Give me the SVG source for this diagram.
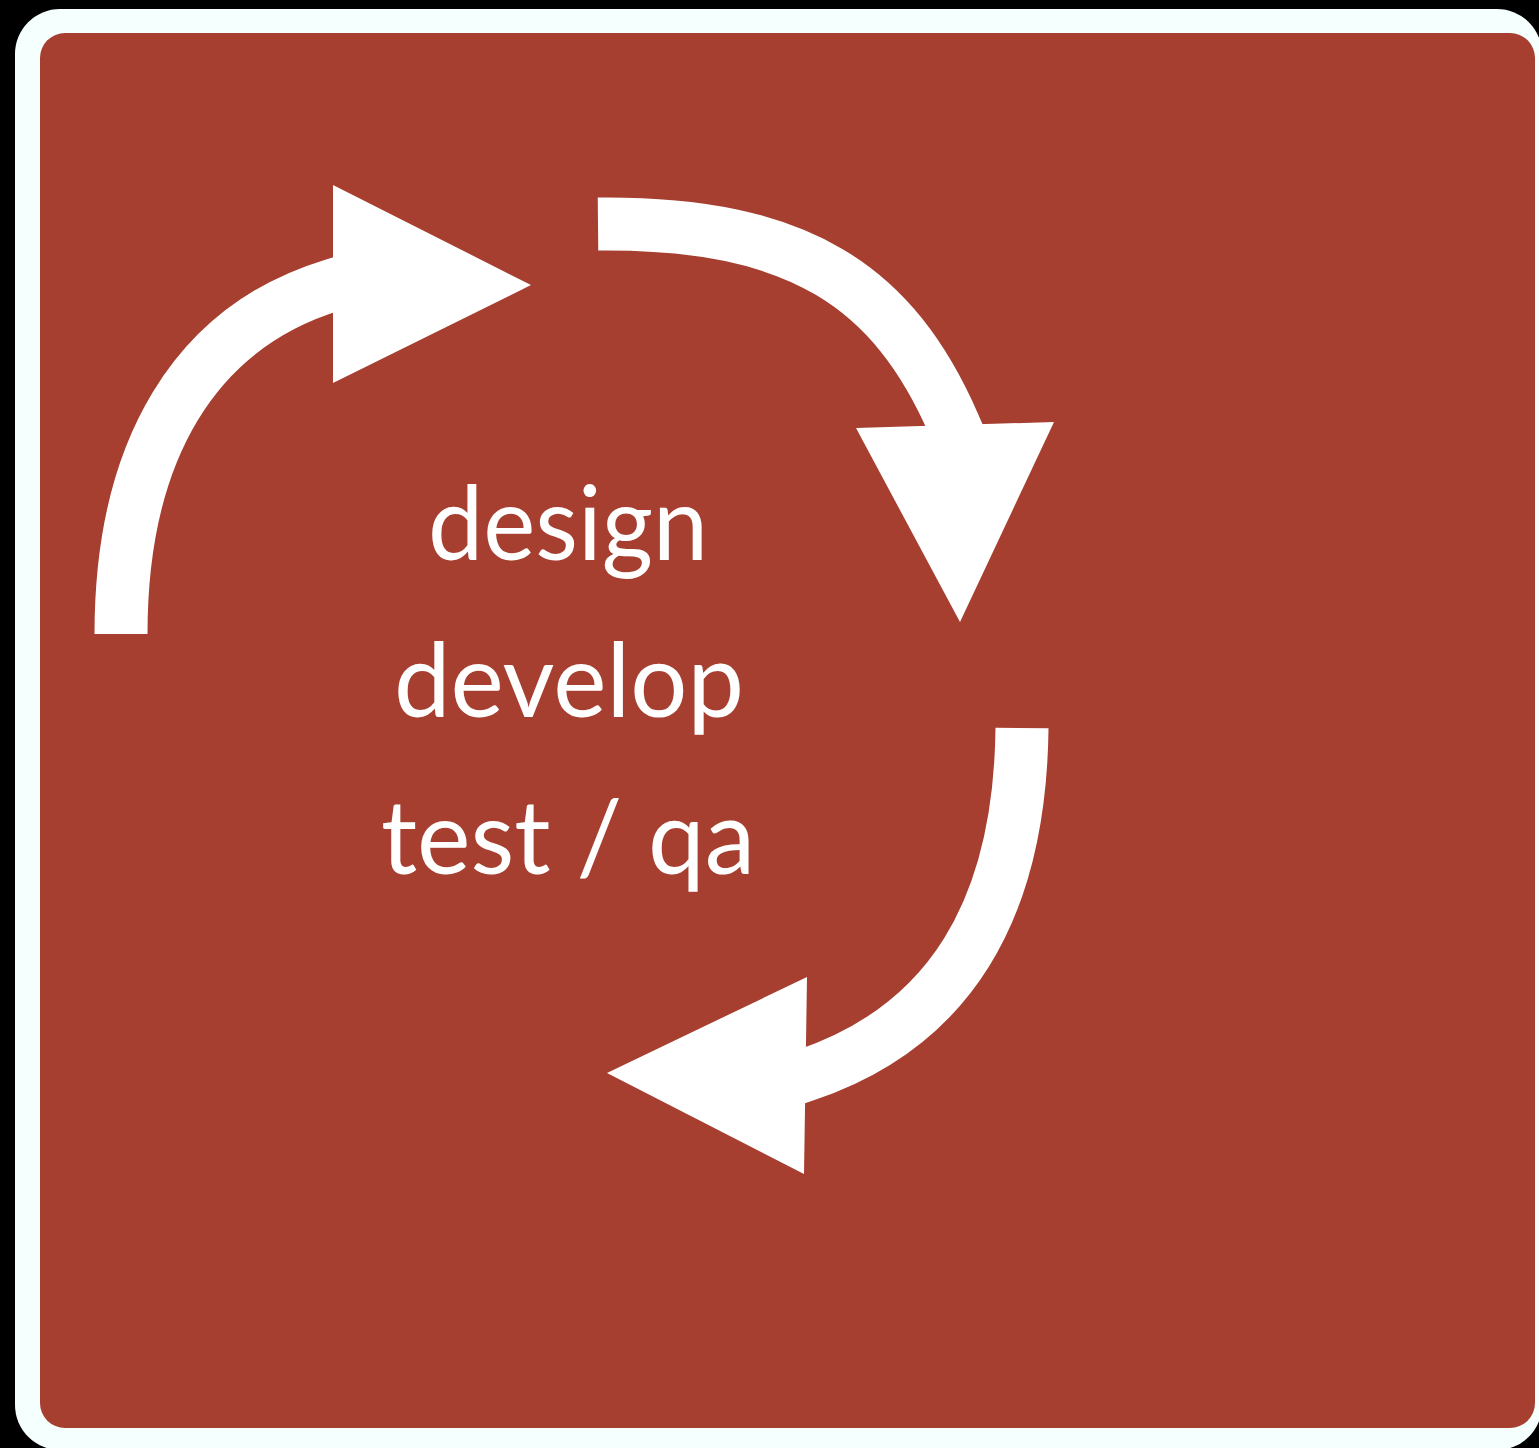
<svg xmlns="http://www.w3.org/2000/svg" width="1539" height="1448" viewBox="0 0 1539 1448">
  <style>
    .shaft { fill: none; stroke: #ffffff; stroke-width: 53; stroke-linecap: butt; stroke-linejoin: round; }
    .head { fill: #ffffff; }
    .label { font-family: "Lato", "Open Sans", "Liberation Sans", sans-serif; font-size: 102px; fill: #ffffff; text-anchor: middle; }
  </style>
  <rect x="0" y="0" width="1539" height="1448" fill="#000000"/>
  <rect id="frame" x="15" y="9" width="1527" height="1441" rx="45" ry="45" fill="#f4fffe"/>
  <rect id="panel" x="40" y="33" width="1495" height="1395" rx="25" ry="25" fill="#a63f30"/>
  <g id="connectors">
    <path class="shaft" d="M121,634 C121,450 195,327 333,285 L361.5,276.3"/>
    <polygon class="head" points="333,185 531,285 333,383"/>
    <path class="shaft" d="M598,224 C800,222 894,287 954,425 L966,452.6"/>
    <polygon class="head" points="856,428 1054,422 960,622"/>
    <path class="shaft" d="M1022,728 C1020,912 948,1027 806,1075 L777.5,1084.6"/>
    <polygon class="head" points="807,977 607,1073 804,1174"/>
  </g>
  <g id="labels">
    <text class="label" x="568" y="560" textLength="280" lengthAdjust="spacingAndGlyphs">design</text>
    <text class="label" x="569" y="717" textLength="350" lengthAdjust="spacingAndGlyphs">develop</text>
    <text class="label" x="568" y="874" textLength="374" lengthAdjust="spacingAndGlyphs">test / qa</text>
  </g>
</svg>
